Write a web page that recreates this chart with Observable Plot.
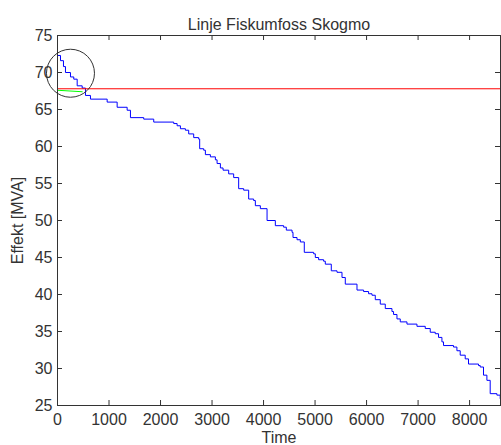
<!DOCTYPE html>
<html><head><meta charset="utf-8">
<script src="https://cdn.jsdelivr.net/npm/d3@7"></script>
<script src="https://cdn.jsdelivr.net/npm/@observablehq/plot@0.6"></script>
<style>body{margin:0;background:#fff} svg{display:block} #chart{width:501px;height:445px;overflow:hidden}</style>
</head><body><div id="chart"></div>
<script>
const title = "Linje Fiskumfoss Skogmo";
const xLabel = "Time";
const yLabel = "Effekt [MVA]";
const xTicks = [0, 1000, 2000, 3000, 4000, 5000, 6000, 7000, 8000];
const yTicks = [25, 30, 35, 40, 45, 50, 55, 60, 65, 70, 75];

// duration curve (hours sorted by load)
const hours = [0, 58, 116, 155, 252, 316, 382, 479, 543, 640, 964, 1158, 1352, 1416, 1674, 1868,
  2256, 2322, 2386, 2483, 2547, 2644, 2741, 2760, 2838, 2871, 2968, 3065, 3098, 3162, 3214, 3323, 3420,
  3517, 3614, 3711, 3808, 3841, 3938, 4068, 4229, 4390, 4442, 4553, 4572, 4650, 4714, 4791, 4972,
  5005, 5069, 5166, 5199, 5315, 5426, 5523, 5587, 5814, 5942, 6039, 6105, 6169, 6266, 6363, 6493,
  6524, 6590, 6654, 6784, 6978, 7139, 7236, 7333, 7397, 7463, 7494, 7688, 7754, 7818, 7915, 7979,
  8173, 8206, 8270, 8336, 8400, 8530, 8594, 8600];
const mva = [72.3, 71.6, 70.8, 70.0, 69.4, 69.1, 68.2, 67.9, 66.9, 66.4, 66.0, 65.3, 64.9, 63.9, 63.7, 63.3,
  63.1, 62.8, 62.4, 62.2, 61.7, 61.2, 61.0, 59.7, 59.5, 58.9, 58.6, 58.2, 57.7, 57.1, 56.8, 56.3, 55.8,
  54.3, 54.1, 52.9, 52.7, 52.0, 51.6, 50.0, 49.3, 49.1, 48.7, 48.4, 47.7, 47.4, 47.1, 45.7, 45.5,
  45.0, 44.7, 44.5, 44.1, 43.2, 43.0, 42.3, 41.4, 40.6, 40.4, 40.1, 39.9, 39.3, 38.7, 38.1, 37.7,
  37.3, 36.7, 36.3, 36.0, 35.7, 35.4, 34.9, 34.7, 34.2, 33.6, 33.1, 32.9, 32.4, 31.8, 31.3, 30.6,
  30.4, 30.2, 29.1, 28.4, 26.6, 26.4, 25.9, 25.9];

const limitHours = [0, 8600];
const limitMva = [67.8, 67.8];
const greenHours = [0, 480];
const greenMva = [67.6, 67.4];
const circleHours = [252];
const circleMva = [69.9];

const curve = hours.map((h, i) => ({h, v: mva[i]}));
const limit = limitHours.map((h, i) => ({h, v: limitMva[i]}));
const green = greenHours.map((h, i) => ({h, v: greenMva[i]}));
const circle = circleHours.map((h, i) => ({h, v: circleMva[i]}));

const ink = "#333";
const chart = Plot.plot({
  width: 501, height: 445,
  marginLeft: 57, marginRight: 1, marginTop: 35, marginBottom: 40,
  style: {fontFamily: "'Liberation Sans', Arial, sans-serif", fontSize: "16px", color: ink, background: "#fff"},
  x: {domain: [0, 8600]},
  y: {domain: [25, 75]},
  marks: [
    Plot.line(curve, {x: "h", y: "v", stroke: "#0000ff", strokeWidth: 1, curve: "step-after"}),
    Plot.line(limit, {x: "h", y: "v", stroke: "#ff0000", strokeWidth: 1}),
    Plot.line(green, {x: "h", y: "v", stroke: "#00ff00", strokeWidth: 1}),
    Plot.dot(circle, {x: "h", y: "v", r: 24, stroke: "#333", strokeWidth: 1, fill: "none"}),
    Plot.ruleX(xTicks, {x: d => d, stroke: ink, insetTop: 365}),
    Plot.ruleX(xTicks, {x: d => d, stroke: ink, insetBottom: 365}),
    Plot.ruleY(yTicks, {y: d => d, stroke: ink, insetRight: 438}),
    Plot.ruleY(yTicks, {y: d => d, stroke: ink, insetLeft: 438}),
    Plot.frame({stroke: ink}),
    Plot.axisX({ticks: xTicks, tickSize: 0, tickPadding: 8, tickFormat: d => String(d), fontSize: 16,
      label: xLabel, labelAnchor: "center", labelOffset: 37, labelArrow: "none", fill: ink}),
    Plot.axisY({ticks: yTicks, tickSize: 0, tickPadding: 5, tickFormat: d => String(d), fontSize: 16,
      label: yLabel, labelAnchor: "center", labelOffset: 46, labelArrow: "none", fill: ink}),
    Plot.text([title], {text: d => d, frameAnchor: "top", dy: -17, fontSize: 16, fill: ink})
  ]
});
document.getElementById("chart").appendChild(chart);
</script>
</body></html>
